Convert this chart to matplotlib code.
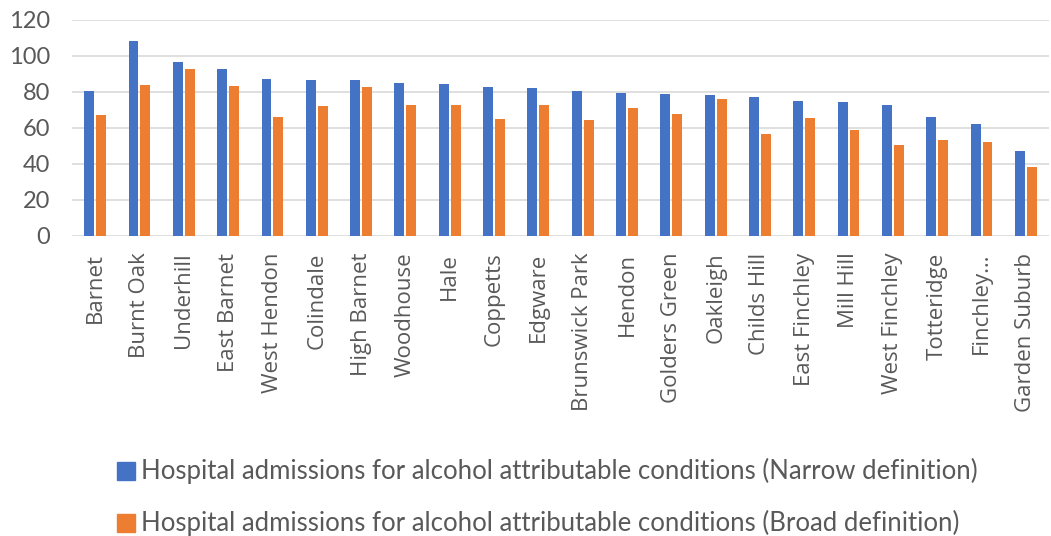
import matplotlib
matplotlib.use("Agg")
import matplotlib.pyplot as plt
import numpy as np

wards = ["Barnet", "Burnt Oak", "Underhill", "East Barnet", "West Hendon", "Colindale",
         "High Barnet", "Woodhouse", "Hale", "Coppetts", "Edgware", "Brunswick Park",
         "Hendon", "Golders Green", "Oakleigh", "Childs Hill", "East Finchley", "Mill Hill",
         "West Finchley", "Totteridge", "Finchley\u2026", "Garden Suburb"]
narrow = [80.6, 108.5, 96.9, 93.0, 87.2, 86.5, 86.5, 85.2, 84.6, 82.8, 82.4, 80.6,
          79.6, 79.1, 78.1, 77.4, 75.2, 74.3, 72.6, 65.9, 62.2, 47.0]
broad = [67.4, 83.9, 92.6, 83.5, 66.1, 72.0, 82.6, 72.8, 72.6, 65.0, 72.6, 64.3,
         71.3, 67.6, 76.3, 56.9, 65.6, 59.1, 50.7, 53.1, 52.4, 38.1]
series_names = ["Hospital admissions for alcohol attributable conditions (Narrow definition)",
                "Hospital admissions for alcohol attributable conditions (Broad definition)"]
yticks = [0, 20, 40, 60, 80, 100, 120]

BLUE = "#4472C4"
ORANGE = "#ED7D31"
TEXT = "#595959"

fig = plt.figure(figsize=(10.51, 5.36), dpi=100)
ax = fig.add_axes([72 / 1051, 1 - 236 / 536, (1049 - 72) / 1051, (236 - 20) / 536])

x = np.arange(len(wards))
w = 0.225
gap = 0.02
ax.bar(x - w / 2 - gap, narrow, width=w, color=BLUE, zorder=3)
ax.bar(x + w / 2 + gap, broad, width=w, color=ORANGE, zorder=3)

ax.set_xlim(-0.52, len(wards) - 0.48)
ax.set_ylim(0, 120)
ax.set_yticks(yticks)
ax.yaxis.grid(True, color="#D9D9D9", linewidth=1.2, zorder=0)
for s in ax.spines.values():
    s.set_visible(False)
ax.tick_params(axis="both", length=0)
ax.tick_params(axis="y", pad=16, labelsize=17, labelcolor=TEXT)
for lab in ax.get_yticklabels():
    lab.set_family("Lato")

ax.set_xticks(x)
ax.set_xticklabels(wards, rotation=90, fontsize=16, color=TEXT, family="Open Sans")
ax.tick_params(axis="x", pad=12)

# legend drawn below the axes
for i, (name, col) in enumerate(zip(series_names, [BLUE, ORANGE])):
    yc = 1 - (471 + 52 * i) / 536
    fig.patches.append(plt.Rectangle((117 / 1051, yc - 9 / 536), 18 / 1051, 18 / 536,
                                     transform=fig.transFigure, color=col))
    fig.text(141 / 1051, yc, name, fontsize=18.5, color=TEXT, va="center", ha="left",
             family="Lato")

fig.savefig("out.png", dpi=100)
